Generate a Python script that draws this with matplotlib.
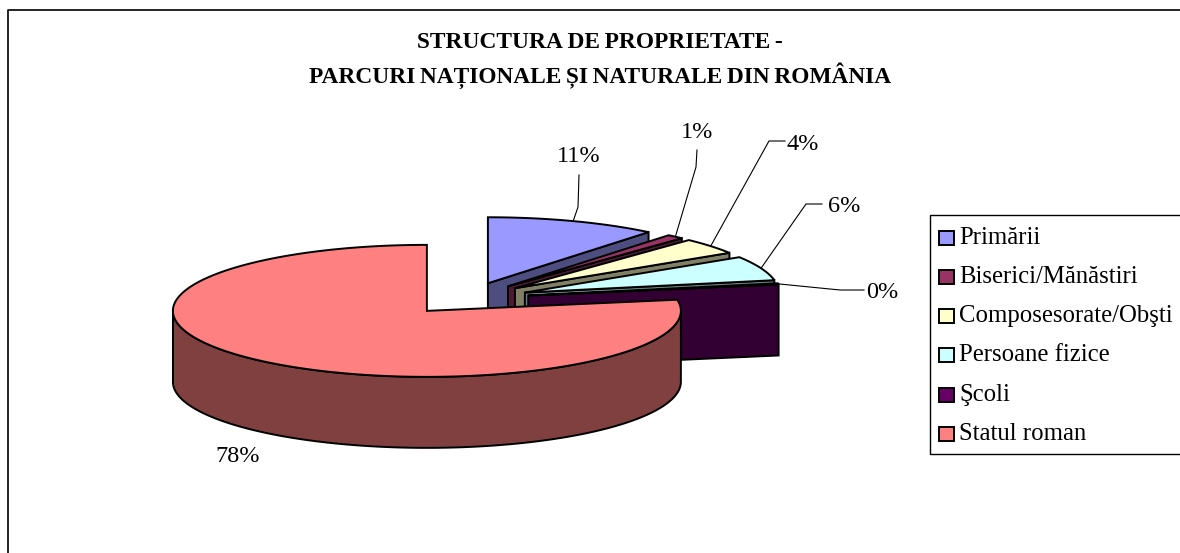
import numpy as np
import matplotlib
matplotlib.use("Agg")
import matplotlib.pyplot as plt
from matplotlib.patches import Polygon, Rectangle

categories = ['Primării', 'Biserici/Mănăstiri', 'Composesorate/Obşti',
              'Persoane fizice', 'Şcoli', 'Statul roman']
values = [10.9, 1.1, 4.0, 6.0, 0.3, 77.7]
pct_labels = ['11%', '1%', '4%', '6%', '0%', '78%']
colors = ['#9999FF', '#993366', '#FFFFCC', '#CCFFFF', '#660066', '#FF8080']
side_colors = ['#4D4D80', '#4D1A33', '#808066', '#668080', '#330033', '#804040']
title_lines = ['STRUCTURA DE PROPRIETATE -',
               'PARCURI NAȚIONALE ȘI NATURALE DIN ROMÂNIA']

# pie geometry, in picture pixels
CX, CY = 467, 298.5
RX, RY = 254, 66
DEPTH = 71
EXPLODE = 0.245

# label position, leader elbow and leader end for each slice
label_xy = [(579, 157), (697, 133), (803, 144), (844, 206), (882, 292), (238, 457)]
elbow_xy = [(578, 207), (696, 167), (769, 141), (806, 204), (840, 290), None]
stub_xy = [(579, 175), (697, 150), (785, 141), (822, 204), (864, 290), None]

plt.rcParams['font.family'] = ['Liberation Serif', 'DejaVu Serif']

fig = plt.figure(figsize=(11.8, 5.53), dpi=100)
ax = fig.add_axes([0, 0, 1, 1])
ax.set_xlim(0, 1180)
ax.set_ylim(553, 0)
ax.axis('off')

# chart border runs off the right and bottom of the picture
ax.plot([7.5, 7.5, 1180], [553, 10, 10], color='black', lw=1.2)

# thin spaces because the original title is set very tight
ax.text(600, 42, title_lines[0].replace(' ', '\u2009'), ha='center', va='center',
        fontsize=16.8, fontweight='bold')
ax.text(600, 76, title_lines[1].replace(' ', '\u2009'), ha='center', va='center',
        fontsize=16.8, fontweight='bold')

edges = np.cumsum([0] + values) / sum(values) * 2 * np.pi


def point(apex, ang, drop=0):
    return apex[0] + RX * np.sin(ang), apex[1] - RY * np.cos(ang) + drop


for i, val in enumerate(values):
    a0, a1 = edges[i], edges[i + 1]
    mid = (a0 + a1) / 2
    apex = (CX + RX * EXPLODE * np.sin(mid), CY - RY * EXPLODE * np.cos(mid))
    arc = np.linspace(a0, a1, 200)
    arc_x = apex[0] + RX * np.sin(arc)
    arc_y = apex[1] - RY * np.cos(arc)

    # inner wall along the clockwise end of the slice
    ex, ey = point(apex, a1)
    if np.cos(a1) > -0.5 and i < 5:
        wall = [apex, (ex, ey), (ex, ey + DEPTH), (apex[0], apex[1] + DEPTH)]
        ax.add_patch(Polygon(wall, fc=side_colors[i], ec='black', lw=1.4, zorder=2 + i))

    # outer wall, only the part that faces the viewer
    front = np.cos(arc) < 0
    if front.any():
        fx, fy = arc_x[front], arc_y[front]
        pts = np.column_stack([np.r_[fx, fx[::-1]], np.r_[fy, fy[::-1] + DEPTH]])
        ax.add_patch(Polygon(pts, fc=side_colors[i], ec='black', lw=1.4, zorder=2 + i))

    top = np.column_stack([np.r_[apex[0], arc_x], np.r_[apex[1], arc_y]])
    ax.add_patch(Polygon(top, fc=colors[i], ec='black', lw=1.4, zorder=2 + i))

    ax.text(*label_xy[i], pct_labels[i], ha='center', va='center', fontsize=17.5, zorder=20)
    if elbow_xy[i] is not None:
        px, py = point(apex, mid)
        ax.plot([px, elbow_xy[i][0], stub_xy[i][0]],
                [py, elbow_xy[i][1], stub_xy[i][1]], color='black', lw=0.8, zorder=15)

# legend
ax.add_patch(Rectangle((929.5, 214.5), 260, 239, fc='white', ec='black', lw=1, zorder=10))
for i, name in enumerate(categories):
    y = 237.5 + i * 39.3
    ax.add_patch(Rectangle((939, y - 7), 14.5, 14, fc=colors[i], ec='black', lw=1.4, zorder=11))
    ax.text(959, y, name, ha='left', va='center', fontsize=17.8, zorder=11)

fig.savefig('out.png', dpi=100)
